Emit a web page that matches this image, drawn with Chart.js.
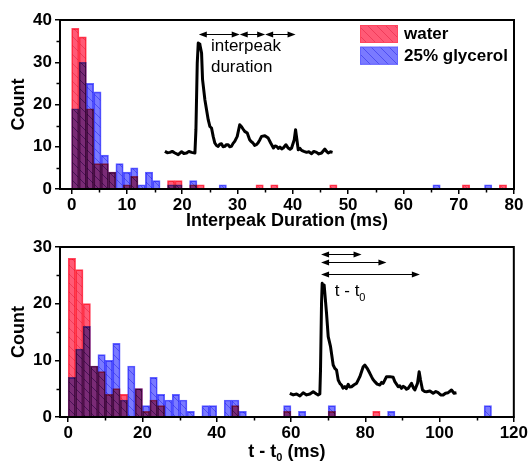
<!DOCTYPE html>
<html><head><meta charset="utf-8">
<script src="https://cdn.jsdelivr.net/npm/chart.js@4.4.0/dist/chart.umd.min.js"></script>
<style>
html,body{margin:0;padding:0;background:#fff;overflow:hidden;}
.w{position:absolute;left:0;width:529px;height:232px;}
#w1{top:0;} #w2{top:232px;}
</style></head><body>
<div class="w" id="w1"><canvas id="c1"></canvas></div>
<div class="w" id="w2"><canvas id="c2"></canvas></div>
<script>
// ---------- data ----------
const seriesLabels = ['water', '25% glycerol'];

const topBinCenters = [0.667,2.0,3.333,4.667,6.0,7.333,8.667,10.0,11.333,12.667,14.0,15.333,16.667,18.0,19.333,20.667,22.0,23.333,24.667,26.0,27.333,28.667,30.0,31.333,32.667,34.0,35.333,36.667,38.0,39.333,40.667,42.0,43.333,44.667,46.0,47.333,48.667,50.0,51.333,52.667,54.0,55.333,56.667,58.0,59.333,60.667,62.0,63.333,64.667,66.0,67.333,68.667,70.0,71.333,72.667,74.0,75.333,76.667,78.0,79.333];
const topWater = [38,36,19,6,6,4,0,1,3,0, 0,0,0,2,2,0,1,1,0,0, 0,0,0,0,0,1,0,1,0,0, 0,0,0,0,0,1,0,0,0,0, 0,0,0,0,0,0,0,0,0,0, 0,0,0,1,0,0,0,0,1,0];
const topGlycerol = [19,30,25,23,8,4,6,4,5,1, 4,2,0,1,1,0,2,0,0,0, 1,0,0,0,0,0,0,0,0,0, 0,0,0,0,0,0,0,0,0,0, 0,0,0,0,0,0,0,0,0,1, 0,0,0,0,0,0,1,0,0,0];
const topXTicks = [0,10,20,30,40,50,60,70,80];
const topYTicks = [0,10,20,30,40];

const bottomBinCenters = [1,3,5,7,9,11,13,15,17,19,21,23,25,27,29,31,33,35,37,39,41,43,45,47,49,51,53,55,57,59,61,63,65,67,69,71,73,75,77,79,81,83,85,87,89,91,93,95,97,99,101,103,105,107,109,111,113,115,117,119];
const bottomWater = [28,26,20,9,8,4,5,4,0,5, 1,3,2,0,0,0,0,0,0,0, 0,0,2,0,0,0,0,0,0,1, 0,0,0,0,0,1,0,0,0,0, 0,1,0,0,0,0,0,0,0,0, 0,0,0,0,0,0,0,0,0,0];
const bottomGlycerol = [7,12,16,9,11,10,13,3,9,5, 2,7,4,3,4,3,1,0,2,2, 0,3,3,1,0,0,0,0,0,2, 0,1,0,0,0,2,0,0,0,0, 0,0,0,1,0,0,0,0,0,0, 0,0,0,0,0,0,2,0,0,0];
const bottomXTicks = [0,20,40,60,80,100,120];
const bottomYTicks = [0,10,20,30];

// inset traces (in the axis units of each panel)
const topTraceX = [16.87,17.3,17.78,18.2,18.68,19.28,19.89,20.3,20.79,21.2,21.69,22.3,22.48,22.72,22.9,23.05,23.2,23.5,23.68,24.1,24.4,24.7,25.0,25.3,25.6,25.9,26.2,26.5,26.8,27.1,27.4,27.7,28.0,28.3,28.6,28.9,29.2,29.5,29.95,30.4,30.7,31.0,31.3,31.76,32.2,32.5,32.8,33.1,33.4,33.7,34.05,34.35,34.95,35.55,36.0,36.5,36.8,37.07,37.4,37.67,38.0,38.27,38.75,39.17,39.5,39.78,40.26,40.5,40.74,40.98,41.3,41.59,42.0,42.49,42.9,43.39,43.8,44.3,44.7,45.2,45.8,46.1,46.4,46.8,47.19];
const topTraceY = [8.91,8.6,8.67,8.9,8.52,8.12,8.83,8.4,8.52,8.9,8.67,8.52,14.04,29.8,34.55,34.3,34.15,32.18,25.87,21.14,18.77,16.4,14.8,14.43,12.45,10.88,10.3,10.09,10.6,10.72,10.0,10.09,10.5,10.48,10.0,10.09,10.8,11.27,12.45,15.2,14.8,14.2,13.64,13.25,11.67,11.2,10.88,10.3,10.48,10.9,11.67,12.45,12.6,12.06,10.88,9.7,10.2,10.09,9.6,9.93,9.5,9.7,10.48,9.7,9.4,9.7,11.67,14.04,11.67,9.3,9.6,9.14,8.9,8.67,8.8,8.36,8.9,8.67,8.3,8.52,9.46,8.9,8.52,8.8,8.67];
const bottomTraceX = [59.69,60.6,61.5,62.4,63.28,64.2,65.08,65.98,66.87,67.3,67.77,67.95,68.22,68.4,68.65,68.93,69.57,70.02,70.65,71.36,71.8,72.26,72.71,73.2,73.6,74.0,74.5,74.9,75.4,75.8,76.3,77.0,77.65,78.54,79.44,79.89,80.51,81.23,81.68,82.1,82.58,83.2,83.93,84.4,84.82,85.72,86.62,87.51,87.96,88.86,89.3,89.76,90.2,90.66,91.1,91.55,92.45,93.0,93.35,94.06,94.51,94.88,95.42,96.0,96.49,97.4,98.28,99.0,99.62,100.3,100.97,101.6,102.32,103.22,103.9,104.56];
const bottomTraceY = [4.18,3.9,4.06,3.7,4.29,3.9,4.06,4.47,4.06,3.9,4.06,8.29,20.06,23.59,23.0,23.29,18.29,14.18,12.41,9.18,8.59,8.29,6.53,5.9,5.65,5.1,5.35,5.0,5.76,5.3,5.35,5.7,5.94,7.12,8.88,9.18,8.59,7.71,7.12,6.6,6.24,5.8,5.65,6.1,5.94,7.12,7.12,7.0,6.24,5.35,5.5,5.06,5.4,5.24,4.9,5.06,5.94,5.1,4.76,5.94,8.0,6.53,4.76,4.5,4.47,4.6,4.18,4.5,4.29,3.9,3.88,4.2,4.29,4.76,4.2,4.29];

// arrows in the insets
const topArrowFrom = [23.0, 30.4, 35.0];
const topArrowTo   = [30.4, 35.0, 40.5];
const topArrowY    = [36.7, 36.7, 36.7];
const bottomArrowFrom = [68.1, 68.1, 68.1];
const bottomArrowTo   = [79.0, 85.7, 94.7];
const bottomArrowY    = [28.8, 27.3, 25.2];

// ---------- styling ----------
const FONT = "'Liberation Sans', Arial, Helvetica, sans-serif";
Chart.defaults.font.family = FONT;
Chart.defaults.color = '#000';

function hatch(bg, fg) {
  const s = 9;
  const c = document.createElement('canvas'); c.width = s; c.height = s;
  const x = c.getContext('2d');
  x.fillStyle = bg; x.fillRect(0, 0, s, s);
  x.strokeStyle = fg; x.lineWidth = 1;
  x.beginPath();
  x.moveTo(-1, -1); x.lineTo(s + 1, s + 1);
  x.moveTo(-1, s - 1); x.lineTo(1, s + 1);
  x.moveTo(s - 1, -1); x.lineTo(s + 1, 1);
  x.stroke();
  return x.createPattern(c, 'repeat');
}
const redPat = hatch('rgb(255,90,118)', 'rgb(240,60,90)');
const bluePat = hatch('rgb(122,122,255)', 'rgb(78,78,242)');
const redBorder = 'rgb(255,70,95)';
const blueBorder = 'rgb(100,100,255)';

function pts(xs, ys) { return xs.map((x, i) => ({x: x, y: ys[i]})); }

// ---------- plugins ----------
const multiplyPlugin = {
  id: 'multiply',
  beforeDatasetsDraw(chart) { chart.ctx.save(); chart.ctx.globalCompositeOperation = 'multiply'; },
  afterDatasetsDraw(chart) { chart.ctx.restore(); }
};

const framePlugin = {
  id: 'frame',
  afterDraw(chart, args, opts) {
    const ctx = chart.ctx, a = chart.chartArea;
    ctx.save();
    ctx.strokeStyle = '#000'; ctx.lineWidth = 2;
    ctx.strokeRect(a.left, a.top, a.right - a.left, a.bottom - a.top);
    ctx.lineWidth = 1.5;
    const xs = chart.scales.x, ys = chart.scales.y;
    const mx = opts.xTicks, my = opts.yTicks;
    ctx.beginPath();
    for (let i = 0; i < mx.length - 1; i++) {
      const p = Math.round(xs.getPixelForValue((mx[i] + mx[i + 1]) / 2)) + 0.5;
      ctx.moveTo(p, a.bottom); ctx.lineTo(p, a.bottom + 3.5);
    }
    for (let i = 0; i < my.length - 1; i++) {
      const p = Math.round(ys.getPixelForValue((my[i] + my[i + 1]) / 2)) + 0.5;
      ctx.moveTo(a.left, p); ctx.lineTo(a.left - 3.5, p);
    }
    ctx.stroke();
    ctx.restore();
  }
};

function drawParts(ctx, parts, x, y, size, weight, align) {
  const subSize = Math.round(size * 0.62);
  let w = 0;
  for (const p of parts) {
    ctx.font = weight + ' ' + (p.sub ? subSize : size) + 'px ' + FONT;
    w += ctx.measureText(p.t).width;
  }
  let cx = align === 'center' ? x - w / 2 : x;
  ctx.textAlign = 'left'; ctx.textBaseline = 'middle';
  for (const p of parts) {
    ctx.font = weight + ' ' + (p.sub ? subSize : size) + 'px ' + FONT;
    ctx.fillText(p.t, cx, p.sub ? y + size * 0.35 : y);
    cx += ctx.measureText(p.t).width;
  }
}

const annotPlugin = {
  id: 'annot',
  afterDatasetsDraw(chart, args, opts) {
    const ctx = chart.ctx, xs = chart.scales.x, ys = chart.scales.y;
    ctx.save();
    ctx.fillStyle = '#000'; ctx.strokeStyle = '#000'; ctx.lineWidth = 1;
    const A = opts.arrows;
    for (let i = 0; i < A.from.length; i++) {
      const x1 = xs.getPixelForValue(A.from[i]), x2 = xs.getPixelForValue(A.to[i]);
      const y = Math.round(ys.getPixelForValue(A.y[i])) + 0.5;
      ctx.beginPath(); ctx.moveTo(x1 + 2, y); ctx.lineTo(x2 - 2, y); ctx.stroke();
      ctx.beginPath();
      ctx.moveTo(x1, y); ctx.lineTo(x1 + 8, y - 3); ctx.lineTo(x1 + 8, y + 3); ctx.closePath();
      ctx.moveTo(x2, y); ctx.lineTo(x2 - 8, y - 3); ctx.lineTo(x2 - 8, y + 3); ctx.closePath();
      ctx.fill();
    }
    for (const t of opts.texts) {
      drawParts(ctx, t.parts, xs.getPixelForValue(t.x), ys.getPixelForValue(t.y), 17, 'normal', 'left');
    }
    ctx.restore();
  }
};

const legendPlugin = {
  id: 'boxLegend',
  afterDraw(chart, args, opts) {
    if (!opts.show) return;
    const ctx = chart.ctx, a = chart.chartArea;
    const ds = chart.data.datasets.filter(d => d.type === 'bar');
    ctx.save();
    ds.forEach((d, i) => {
      const bx = a.right - 154, by = a.top + 5 + i * 21.7;
      ctx.fillStyle = d.backgroundColor; ctx.fillRect(bx, by, 38, 18);
      ctx.strokeStyle = d.borderColor; ctx.lineWidth = 1;
      ctx.strokeRect(bx + 0.5, by + 0.5, 37, 17);
      ctx.fillStyle = '#000';
      ctx.font = 'bold 17px ' + FONT;
      ctx.textAlign = 'left'; ctx.textBaseline = 'middle';
      ctx.fillText(d.label, bx + 44, by + 9.5);
    });
    ctx.restore();
  }
};

const xTitlePlugin = {
  id: 'xTitle',
  afterDraw(chart, args, opts) {
    if (!opts.parts) return;
    const ctx = chart.ctx, a = chart.chartArea;
    ctx.save(); ctx.fillStyle = '#000';
    drawParts(ctx, opts.parts, (a.left + a.right) / 2, opts.y, 18, 'bold', 'center');
    ctx.restore();
  }
};

function makeScales(xmin, xmax, xTicks, xTitle, yTicks, xHeight, xTitlePadBottom) {
  const tickFont = {family: FONT, size: 17, weight: 'bold'};
  const common = {
    grid: {display: true, drawOnChartArea: false, drawTicks: true, tickLength: 5, color: '#000', lineWidth: 1.5, offset: false},
    border: {display: true, color: '#000', width: 2}
  };
  return {
    x: Object.assign({
      type: 'linear', min: xmin, max: xmax, offset: false,
      afterBuildTicks: s => { s.ticks = xTicks.map(v => ({value: v})); },
      afterFit: s => { s.height = xHeight; },
      ticks: {font: tickFont, color: '#000', padding: 1, maxRotation: 0, autoSkip: false, callback: v => String(v)},
      title: {display: !!xTitle, text: xTitle || '', color: '#000', font: {family: FONT, size: 18, weight: 'bold'}, padding: {top: 0, bottom: xTitlePadBottom}}
    }, common),
    y: Object.assign({
      type: 'linear', min: yTicks[0], max: yTicks[yTicks.length - 1],
      afterBuildTicks: s => { s.ticks = yTicks.map(v => ({value: v})); },
      afterFit: s => { s.width = 60; },
      ticks: {font: tickFont, color: '#000', padding: 3, callback: v => String(v)},
      title: {display: true, text: 'Count', color: '#000', font: {family: FONT, size: 18, weight: 'bold'}, padding: {top: 8, bottom: 0}}
    }, common)
  };
}

function barSet(label, xs, ys, pat, border, order) {
  return {type: 'bar', label: label, data: pts(xs, ys), backgroundColor: pat, borderColor: border,
          borderWidth: 1, grouped: false, barPercentage: 1, categoryPercentage: 1, order: order};
}
function lineSet(xs, ys) {
  return {type: 'line', label: 'trace', data: pts(xs, ys), borderColor: '#000', borderWidth: 3,
          pointRadius: 0, tension: 0, fill: false, order: 0, borderJoinStyle: 'round'};
}

const basePlugins = [multiplyPlugin, framePlugin, annotPlugin, legendPlugin, xTitlePlugin];

new Chart(document.getElementById('c1'), {
  type: 'bar',
  data: {datasets: [
    lineSet(topTraceX, topTraceY),
    barSet(seriesLabels[0], topBinCenters, topWater, redPat, redBorder, 2),
    barSet(seriesLabels[1], topBinCenters, topGlycerol, bluePat, blueBorder, 1)
  ]},
  options: {
    responsive: true, maintainAspectRatio: false, animation: false, devicePixelRatio: 1,
    layout: {padding: {top: 20, right: 15, left: 0, bottom: 0}},
    scales: makeScales(-2.1, 80, topXTicks, 'Interpeak Duration (ms)', topYTicks, 43, 0),
    plugins: {
      legend: {display: false}, tooltip: {enabled: false},
      frame: {xTicks: topXTicks, yTicks: topYTicks},
      annot: {arrows: {from: topArrowFrom, to: topArrowTo, y: topArrowY},
              texts: [{x: 25.2, y: 33.7, parts: [{t: 'interpeak'}]}, {x: 25.2, y: 28.9, parts: [{t: 'duration'}]}]},
      boxLegend: {show: true},
      xTitle: {}
    }
  },
  plugins: basePlugins
});

new Chart(document.getElementById('c2'), {
  type: 'bar',
  data: {datasets: [
    lineSet(bottomTraceX, bottomTraceY),
    barSet(seriesLabels[0], bottomBinCenters, bottomWater, redPat, redBorder, 2),
    barSet(seriesLabels[1], bottomBinCenters, bottomGlycerol, bluePat, blueBorder, 1)
  ]},
  options: {
    responsive: true, maintainAspectRatio: false, animation: false, devicePixelRatio: 1,
    layout: {padding: {top: 15, right: 15, left: 0, bottom: 0}},
    scales: makeScales(-2.2, 120, bottomXTicks, null, bottomYTicks, 47, 0),
    plugins: {
      legend: {display: false}, tooltip: {enabled: false},
      frame: {xTicks: bottomXTicks, yTicks: bottomYTicks},
      annot: {arrows: {from: bottomArrowFrom, to: bottomArrowTo, y: bottomArrowY},
              texts: [{x: 71.8, y: 22.1, parts: [{t: 't - t'}, {t: '0', sub: true}]}]},
      boxLegend: {show: false},
      xTitle: {y: 220, parts: [{t: 't - t'}, {t: '0', sub: true}, {t: ' (ms)'}]}
    }
  },
  plugins: basePlugins
});
</script>
</body></html>
